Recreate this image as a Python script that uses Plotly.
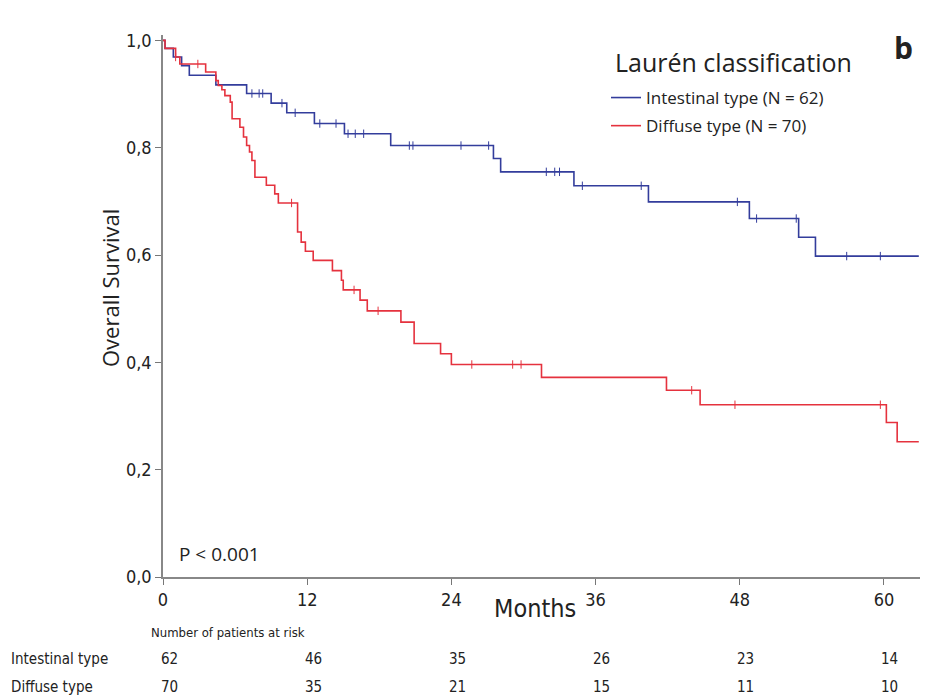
import plotly.graph_objects as go

# ---------------- data ----------------
months_end = 62.9

int_times = [0, 0.17, 0.86, 1.55, 2.19, 4.4, 6.96, 9.0, 10.3, 12.6, 15.1, 18.95,
             27.5, 28.1, 34.2, 40.4, 48.8, 52.9, 54.3]
int_surv = [1.0, 0.985, 0.969, 0.953, 0.935, 0.917, 0.901, 0.883, 0.865, 0.845,
            0.826, 0.804, 0.780, 0.755, 0.729, 0.699, 0.668, 0.633, 0.598]
int_cens = [7.4, 8.0, 8.3, 9.9, 11.0, 13.05, 14.4, 15.4, 16.0, 16.7, 20.5, 20.8,
            24.8, 27.1, 31.9, 32.6, 33.0, 34.9, 39.8, 47.8, 49.4, 52.7, 56.9, 59.7]

dif_times = [0, 0.17, 1.05, 1.4, 3.55, 4.4, 4.6, 4.9, 5.15, 5.6, 5.75, 6.4, 6.7,
             6.96, 7.2, 7.4, 7.65, 8.6, 9.3, 9.6, 11.2, 11.5, 11.85, 12.5, 14.1,
             14.85, 15.0, 16.4, 17.0, 19.8, 20.9, 23.1, 24.0, 31.5, 41.9, 44.7,
             60.2, 61.1]
dif_surv = [1.0, 0.985, 0.969, 0.956, 0.941, 0.925, 0.916, 0.908, 0.897, 0.885,
            0.854, 0.838, 0.820, 0.804, 0.792, 0.776, 0.745, 0.730, 0.714, 0.697,
            0.643, 0.624, 0.607, 0.590, 0.571, 0.553, 0.535, 0.516, 0.496, 0.475,
            0.435, 0.416, 0.396, 0.372, 0.348, 0.321, 0.288, 0.252]
dif_cens = [1.05, 2.9, 10.7, 15.9, 17.9, 25.7, 29.1, 29.8, 44.0, 47.6, 59.7]

x_ticks = [0, 12, 24, 36, 48, 60]
y_ticks = [0.0, 0.2, 0.4, 0.6, 0.8, 1.0]
y_tick_text = ["0,0", "0,2", "0,4", "0,6", "0,8", "1,0"]

risk_groups = ["Intestinal type", "Diffuse type"]
risk_int = [62, 46, 35, 26, 23, 14]
risk_dif = [70, 35, 21, 15, 11, 10]

BLUE = "#333d9c"
RED = "#e5323e"

# ---------------- layout helpers (page pixels -> paper coords) ----------------
OFF = 8  # default body margin of the html page
W, H = 929 - OFF, 696 - OFF
ML, MR, MT, MB = 163 - OFF, 9, 35 - OFF, 119
PW, PH = W - ML - MR, H - MT - MB


def px_x(px):
    return (px - OFF - ML) / PW


def px_y(py):
    return (H - MB - (py - OFF)) / PH


def surv_at(times, surv, t):
    s = surv[0]
    for ti, si in zip(times, surv):
        if ti <= t:
            s = si
    return s


fig = go.Figure()

for i, (name, times, surv, cens, col) in enumerate([
    ("Intestinal type (N = 62)", int_times, int_surv, int_cens, BLUE),
    ("Diffuse type (N = 70)", dif_times, dif_surv, dif_cens, RED),
]):
    fig.add_trace(go.Scatter(
        x=times + [months_end], y=surv + [surv[-1]], mode="lines",
        line=dict(color=col, width=1.6, shape="hv"), name=name,
        legendgroup=f"g{i}",
    ))
    fig.add_trace(go.Scatter(
        x=cens, y=[surv_at(times, surv, c) for c in cens], mode="markers",
        marker=dict(symbol="line-ns", size=6, line=dict(color=col, width=1)),
        showlegend=False, hoverinfo="skip", legendgroup=f"g{i}",
    ))

NARROW = "Liberation Sans Narrow, DejaVu Sans Condensed, Arial Narrow, sans-serif"
SANS = "Open Sans, sans-serif"
TICKFONT = dict(family=NARROW, size=18, color="#222")

fig.update_xaxes(range=[0, 63], tickvals=x_ticks, ticks="outside", ticklen=6,
                 tickcolor="#777", showline=True, linecolor="#888", linewidth=1.5,
                 showgrid=False, zeroline=False, tickfont=TICKFONT)
fig.update_yaxes(range=[0, 1.01], tickvals=y_ticks, ticktext=y_tick_text,
                 ticks="outside", ticklen=6, tickcolor="#777", showline=True,
                 linecolor="#888", linewidth=1.5, showgrid=False, zeroline=False,
                 tickfont=TICKFONT)


def ann(text, x, y, size, family=SANS, xanchor="center", **kw):
    return dict(text=text, x=px_x(x), y=px_y(y), xref="paper", yref="paper",
                xanchor=xanchor, yanchor="middle", showarrow=False,
                font=dict(family=family, size=size, color="#222"), **kw)


annotations = [
    ann("Overall Survival", 110, 288, 22, textangle=-90),
    ann("Months", 535, 608, 25, family=NARROW),
    ann("<b>b</b>", 903, 47, 30),
    ann("P < 0.001", 177, 554, 19, xanchor="left"),
    ann("Number of patients at risk", 149, 632, 13, family=NARROW, xanchor="left"),
    ann("Laurén classification", 613, 62, 25, xanchor="left"),
]
row_y = [659, 687]
for gname, ry in zip(risk_groups, row_y):
    annotations.append(ann(gname, 9, ry, 15, family=NARROW, xanchor="left"))
for vals, ry in zip([risk_int, risk_dif], row_y):
    for m, v in zip(x_ticks, vals):
        annotations.append(dict(text=str(v), x=m, xref="x", y=px_y(ry), yref="paper",
                                xshift=6, xanchor="center", yanchor="middle",
                                showarrow=False,
                                font=dict(family=NARROW, size=15, color="#222")))

fig.update_layout(
    width=W, height=H, margin=dict(l=ML, r=MR, t=MT, b=MB, autoexpand=False),
    plot_bgcolor="white", paper_bgcolor="white",
    annotations=annotations,
    legend=dict(
        x=px_x(606), y=px_y(80), xanchor="left", yanchor="top",
        font=dict(family=SANS, size=17, color="#222"),
        bgcolor="rgba(0,0,0,0)", itemwidth=30, traceorder="grouped",
        tracegroupgap=3,
    ),
)

fig.write_html("out.html")
